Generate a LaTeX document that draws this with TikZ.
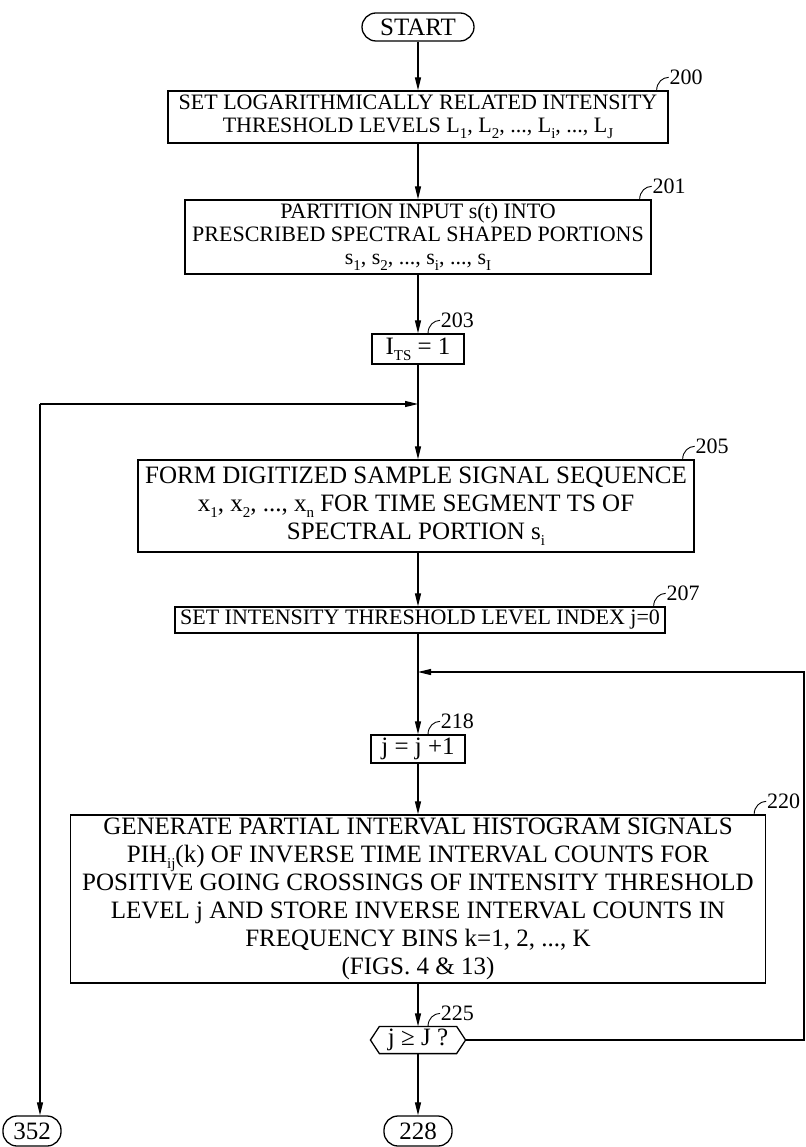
\documentclass[tikz,border=0pt]{standalone}
\usepackage{fontspec}
\setmainfont{Liberation Serif}
\usetikzlibrary{arrows.meta,calc}

\newcommand{\fsA}{\fontsize{22}{23}\selectfont}
\newcommand{\fsB}{\fontsize{25}{28}\selectfont}
\newcommand{\fsT}{\fontsize{25}{26}\selectfont}
\newcommand{\fsL}{\fontsize{22}{22}\selectfont}
\newcommand{\lowidx}[1]{\raisebox{-0.25em}{\fontsize{15}{15}\selectfont #1}}
% reference numeral with its small hook
\newcommand{\refnum}[2]{\draw[line width=0.9pt] (#1) .. controls +(0,-8) and +(-6,0) .. ++(12,-13) node[numlbl]{#2};}

\tikzset{
  procbox/.style={draw,line width=1.3pt,align=center,inner sep=1pt},
  termbox/.style={draw,line width=1.3pt,rounded corners=14pt,inner sep=1pt,font=\fsT},
  decbox/.style={inner sep=1pt,font=\fsT},
  numlbl/.style={right,inner sep=0.5pt,font=\fsL}
}

\begin{document}
\begin{tikzpicture}[x=1pt,y=-1pt,line width=1.2pt,>={Triangle[length=13pt,width=6pt]}]
\useasboundingbox (0,0) rectangle (805,1147);

\node[termbox,minimum width=112,minimum height=28] (start) at (418,27) {START};
\node[procbox,font=\fsA,minimum width=500,minimum height=52] (n200) at (418,117)
  {SET LOGARITHMICALLY RELATED INTENSITY\\THRESHOLD LEVELS L\lowidx{1}, L\lowidx{2}, ..., L\lowidx{i}, ..., L\lowidx{J}};
\node[procbox,font=\fsA,minimum width=466,minimum height=74] (n201) at (418,237)
  {PARTITION INPUT s(t) INTO\\PRESCRIBED SPECTRAL SHAPED PORTIONS\\s\lowidx{1}, s\lowidx{2}, ..., s\lowidx{i}, ..., s\lowidx{I}};
\node[procbox,font=\fsT,minimum width=92,minimum height=30] (n203) at (418,349) {I\lowidx{TS} = 1};
\node[procbox,font=\fsB,minimum width=556,minimum height=92] (n205) at (416,506)
  {FORM DIGITIZED SAMPLE SIGNAL SEQUENCE\\x\lowidx{1}, x\lowidx{2}, ..., x\lowidx{n} FOR TIME SEGMENT TS OF\\SPECTRAL PORTION s\lowidx{i}};
\node[procbox,font=\fsA,minimum width=490,minimum height=26] (n207) at (420,620)
  {SET INTENSITY THRESHOLD LEVEL INDEX j=0};
\node[procbox,font=\fsT,minimum width=94,minimum height=28] (n218) at (418,749) {j = j +1};
\node[procbox,font=\fsB,minimum width=695,minimum height=168] (n220) at (418,899)
  {GENERATE PARTIAL INTERVAL HISTOGRAM SIGNALS\\PIH\lowidx{ij}(k) OF INVERSE TIME INTERVAL COUNTS FOR\\POSITIVE GOING CROSSINGS OF INTENSITY THRESHOLD\\LEVEL j AND STORE INVERSE INTERVAL COUNTS IN\\FREQUENCY BINS k=1, 2, ..., K\\(FIGS. 4 \& 13)};
\node[decbox,minimum width=76,minimum height=26] (n225) at (418,1040) {j ≥ J ?};
\node[termbox,minimum width=68,minimum height=30] (n228) at (418,1131) {228};
\node[termbox,minimum width=58,minimum height=30] (n352) at (32,1131) {352};

% decision outline
\coordinate (hexR) at ($(n225.east)+(9,0)$);
\coordinate (hexL) at ($(n225.west)+(-9,0)$);
\draw[line width=1.3pt] (n225.north west) -- (n225.north east) -- (hexR) -- (n225.south east)
  -- (n225.south west) -- (hexL) -- cycle;

% joins on the main line
\coordinate (lpjoin) at (418,404);
\coordinate (lpcorner) at (40,404);
\coordinate (fbjoin) at (418,672);
\coordinate (fbcorner) at (804,672);

\draw[->] (start) -- (start |- n200.north);
\draw[->] (n200) -- (n200 |- n201.north);
\draw[->] (n201) -- (n203);
\draw[->] (n203) -- (n203 |- n205.north);
\draw[->] (n203 |- n205.south) -- (n203 |- n207.north);
\draw[->] (n218 |- n207.south) -- (n218);
\draw[->] (n218) -- (n218 |- n220.north);
\draw[->] (n220) -- (n225);
\draw[->] (n225) -- (n228);
\draw[->] (lpcorner) -- (lpjoin);
\draw[->] (lpcorner) -- (lpcorner |- n352.north);
\draw[->] (hexR) -| (fbcorner) -- (fbjoin);

\refnum{$(n200.north east)+(-12,0)$}{200}
\refnum{$(n201.north east)+(-12,0)$}{201}
\refnum{$(n203.north)+(10,0)$}{203}
\refnum{$(n205.north east)+(-12,0)$}{205}
\refnum{$(n207.north east)+(-12,0)$}{207}
\refnum{$(n218.north)+(10,0)$}{218}
\refnum{$(n220.north east)+(-12,0)$}{220}
\refnum{$(n225.north)+(10,0)$}{225}
\end{tikzpicture}
\end{document}
